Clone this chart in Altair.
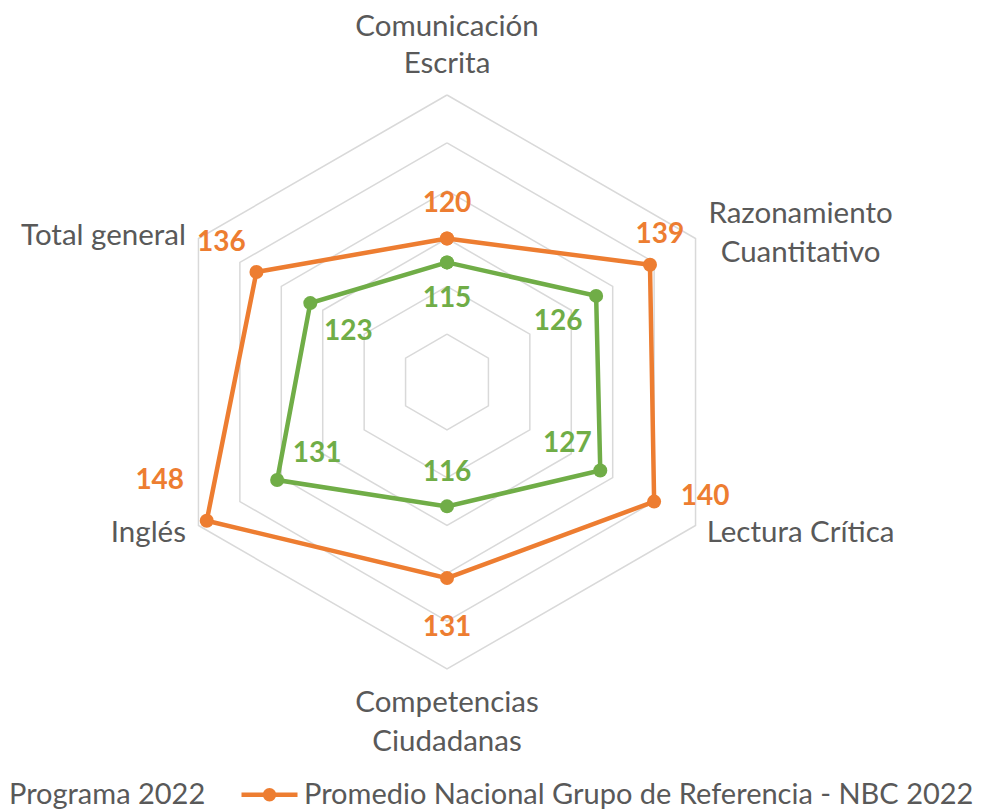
import altair as alt
import pandas as pd

# ---------------- data ----------------
categories = ["Comunicación Escrita", "Razonamiento Cuantitativo", "Lectura Crítica",
              "Competencias Ciudadanas", "Inglés", "Total general"]
category_labels = ["Comunicación\nEscrita", "Razonamiento\nCuantitativo", "Lectura Crítica",
                   "Competencias\nCiudadanas", "Inglés", "Total general"]
series_names = ["Programa 2022", "Promedio Nacional Grupo de Referencia - NBC 2022"]
programa_2022 = [115, 126, 127, 116, 131, 123]
promedio_nbc_2022 = [120, 139, 140, 131, 148, 136]
ring_values = [100, 110, 120, 130, 140, 150]
axis_min = 90
axis_max = 150

# ---------------- style / layout ----------------
GREEN = "#70AD47"
ORANGE = "#ED7D31"
GRID = "#D9D9D9"
TEXT = "#595959"
FONT = "Lato"
W, H = 969, 803
CX, CY = 439, 374          # centre of the radar inside the view (px)
R_PX = 287                 # outer ring radius (px)
K = R_PX / (axis_max - axis_min)
N = len(categories)

xs = alt.Scale(domain=[-CX / K, (W - CX) / K], nice=False, zero=False)
ys = alt.Scale(domain=[-(H - CY) / K, CY / K], nice=False, zero=False)
X = alt.X("px:Q", scale=xs, axis=None)
Y = alt.Y("py:Q", scale=ys, axis=None)

# value label offsets (px) per series, per category
value_label_offsets = {
    series_names[0]: [(0, 37), (-38, 26), (-33, -26), (0, -33), (40, -26), (38, 29)],
    series_names[1]: [(0, -35), (10, -30), (51, -5), (0, 50), (-47, -40), (-35, -29)],
}
series_colors = {series_names[0]: GREEN, series_names[1]: ORANGE}
# category label placement: (align, dx, dy, lineHeight)
category_label_style = [("center", 0, -59, 37), ("center", 105, -15.5, 38.5),
                        ("center", 105, 16.5, 38.5), ("center", 0, 43, 38.5),
                        ("right", -12.5, 16.5, 38.5), ("right", -12.5, 6.5, 38.5)]

# ---------------- tables ----------------
rows = []
for name, vals in zip(series_names, [programa_2022, promedio_nbc_2022]):
    for i in range(N + 1):
        j = i % N
        rows.append({"series": name, "category": categories[j], "idx": i, "value": vals[j]})
series_df = pd.DataFrame(rows)

ring_df = pd.DataFrame([{"ring": r, "idx": i, "value": r} for r in ring_values for i in range(N + 1)])
cat_df = pd.DataFrame({"category": categories, "label": category_labels,
                       "idx": list(range(N)), "value": [axis_max] * N})


def polar(ch):
    return ch.transform_calculate(
        angle=f"datum.idx * 2 * PI / {N}",
        rr=f"datum.value - {axis_min}",
    ).transform_calculate(
        px="datum.rr * sin(datum.angle)",
        py="datum.rr * cos(datum.angle)",
    )


LEGEND_SYMBOL = ("M-1,0H1 M0.08,0A0.08,0.08 0 1,1 -0.08,0A0.08,0.08 0 1,1 0.08,0 "
                 "M0.16,0A0.16,0.16 0 1,1 -0.16,0A0.16,0.16 0 1,1 0.16,0")

color = alt.Color(
    "series:N",
    scale=alt.Scale(domain=series_names, range=[GREEN, ORANGE]),
    sort=series_names,
    legend=alt.Legend(
        orient="none", legendX=-64, legendY=756, direction="horizontal", title=None,
        symbolType=LEGEND_SYMBOL, symbolSize=3136, symbolStrokeWidth=4.5,
        labelFont=FONT, labelFontSize=29, labelColor=TEXT, labelLimit=1000,
        labelOffset=4, columnPadding=26, padding=0,
    ),
)

grid = polar(alt.Chart(ring_df)).mark_line(color=GRID, strokeWidth=1.5).encode(
    x=X, y=Y, detail="ring:N", order="idx:Q")

lines = polar(alt.Chart(series_df)).mark_line(
    strokeWidth=4.5,
    point=alt.OverlayMarkDef(filled=True, size=196, opacity=1),
).encode(x=X, y=Y, color=color, order="idx:Q")

layers = [grid, lines]

for k in range(N):
    align, dx, dy, lh = category_label_style[k]
    layers.append(
        polar(alt.Chart(cat_df).transform_filter(f"datum.idx == {k}")).mark_text(
            align=align, baseline="alphabetic", dx=dx, dy=dy, font=FONT, fontSize=29.5,
            color=TEXT, lineBreak="\n", lineHeight=lh,
        ).encode(x=X, y=Y, text="label:N")
    )

for s in series_names:
    for k in range(N):
        dx, dy = value_label_offsets[s][k]
        layers.append(
            polar(alt.Chart(series_df).transform_filter(
                f"datum.series == '{s}' && datum.idx == {k}")).mark_text(
                align="center", baseline="middle", dx=dx, dy=dy, font=FONT, fontSize=28,
                fontWeight="bold", color=series_colors[s],
            ).encode(x=X, y=Y, text="value:Q")
        )

chart = alt.layer(*layers).properties(
    width=W, height=H, padding=0, background="white",
    autosize=alt.AutoSizeParams(type="none"),
).configure_view(strokeWidth=0)

chart.save("out.html", embed_options={"renderer": "svg", "actions": False})
